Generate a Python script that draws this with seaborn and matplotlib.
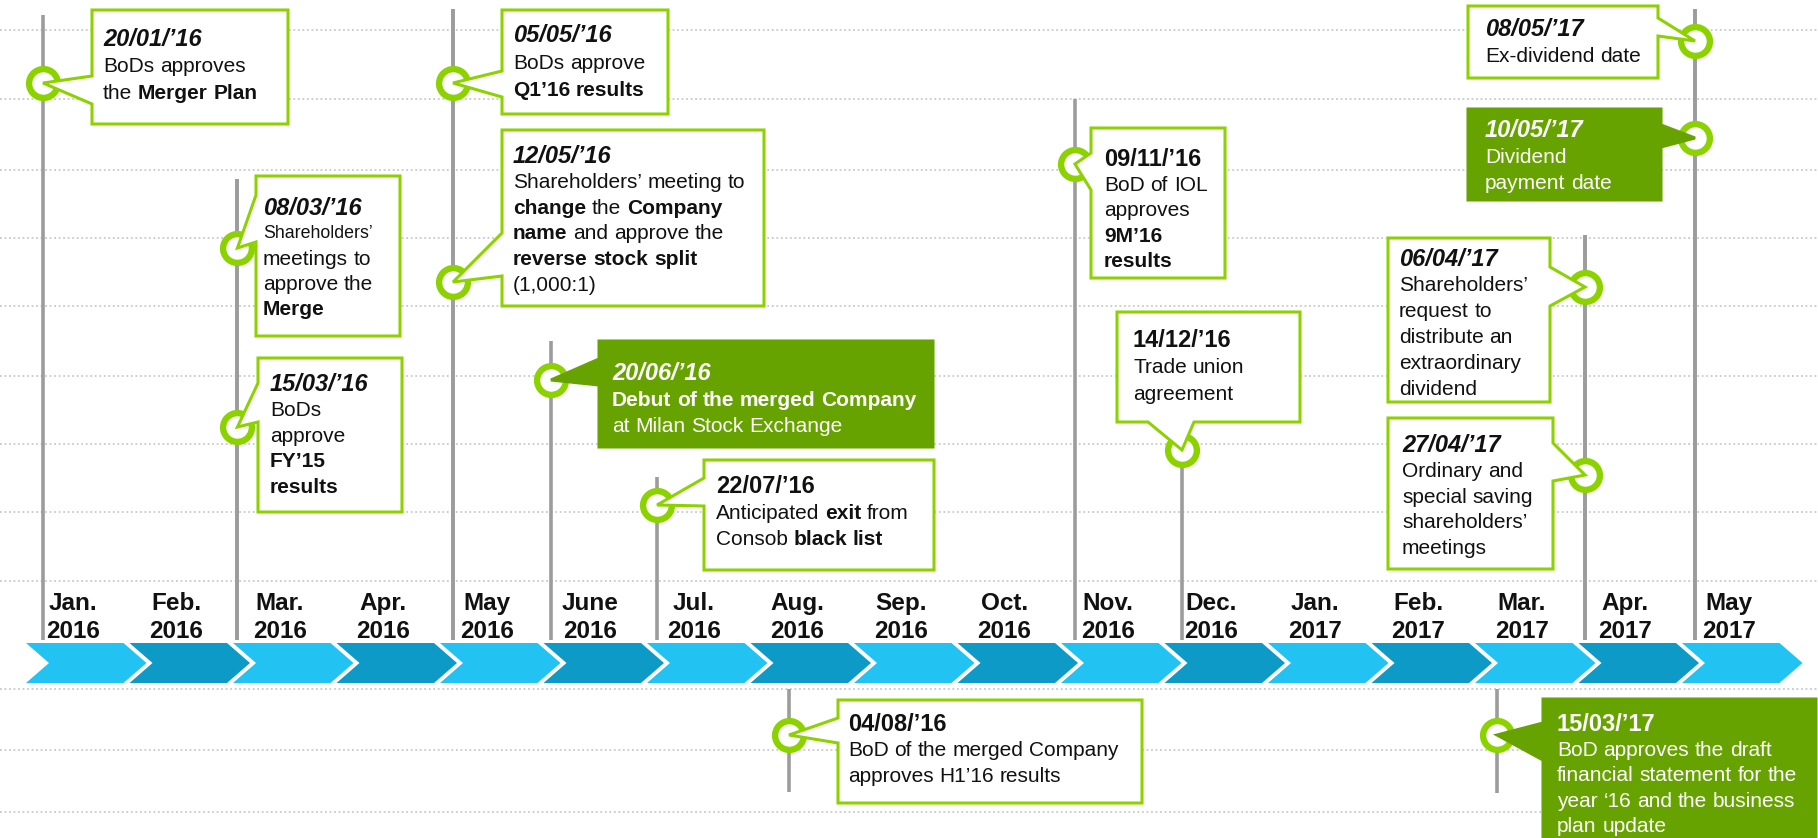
import matplotlib
matplotlib.use("Agg")
import matplotlib.pyplot as plt
import seaborn as sns
from matplotlib.patches import Polygon

# ---------------- data ----------------
month_names = ["Jan.", "Feb.", "Mar.", "Apr.", "May", "June", "Jul.", "Aug.", "Sep.",
               "Oct.", "Nov.", "Dec.", "Jan.", "Feb.", "Mar.", "Apr.", "May"]
month_years = ["2016"] * 12 + ["2017"] * 5

event_dates = ["20/01/’16", "08/03/’16", "15/03/’16", "05/05/’16", "12/05/’16",
               "20/06/’16", "22/07/’16", "04/08/’16", "09/11/’16", "14/12/’16",
               "15/03/’17", "06/04/’17", "27/04/’17", "08/05/’17", "10/05/’17"]
# position on the month axis (0 = start of Jan. 2016)
event_pos = [0.164, 2.043, 2.043, 4.126, 4.126, 5.072, 6.097, 7.372, 10.135,
             11.169, 14.213, 15.063, 15.063, 16.126, 16.126]
event_italic = [1, 1, 1, 1, 1, 1, 0, 0, 0, 0, 0, 1, 1, 1, 1]
event_highlight = [0, 0, 0, 0, 0, 1, 0, 0, 0, 0, 1, 0, 0, 0, 1]
event_lines = [
    ["BoDs approves", "the **Merger Plan**"],
    ["Shareholders’", "meetings to", "approve the", "**Merge**"],
    ["BoDs", "approve", "**FY’15**", "**results**"],
    ["BoDs approve", "**Q1’16 results**"],
    ["Shareholders’ meeting to", "**change** the **Company**", "**name** and approve the",
     "**reverse stock split**", "(1,000:1)"],
    ["**Debut of the merged Company**", "at Milan Stock Exchange"],
    ["Anticipated **exit** from", "Consob **black list**"],
    ["BoD of the merged Company", "approves H1’16 results"],
    ["BoD of IOL", "approves", "**9M’16**", "**results**"],
    ["Trade union", "agreement"],
    ["BoD approves the draft", "financial statement for the",
     "year ‘16 and the business", "plan update"],
    ["Shareholders’", "request to", "distribute an", "extraordinary", "dividend"],
    ["Ordinary and", "special saving", "shareholders’", "meetings"],
    ["Ex-dividend date"],
    ["Dividend", "payment date"],
]

# ---------------- layout (pixels) ----------------
W_PX, H_PX = 1818, 838
X0, MONTH_W = 26, 103.5
LAYOUT = [
    dict(cy=83, box=(92, 10, 288, 124), tail=("left", 76, 104), tx=103, ty=38, dy=27, stem=(15, 640)),
    dict(cy=248, box=(256, 176, 400, 336), tail=("left", 195, 242), tx=263, ty=207, dy=25.3, stem=(179, 640), first=12.8),
    dict(cy=427, box=(258, 358, 402, 512), tail=("left", 383, 422), tx=270, ty=383, dy=25.8, stem=(179, 640)),
    dict(cy=83, box=(502, 10, 668, 114), tail=("left", 71, 97), tx=513, ty=34, dy=27.5, stem=(9, 640)),
    dict(cy=282, box=(502, 130, 764, 306), tail=("left", 233, 276), tx=513, ty=155, dy=25.8, stem=(9, 640)),
    dict(cy=380, box=(599, 341, 933, 447), tail=("left", 359, 385), tx=612, ty=372, dy=26.5, stem=(341, 640)),
    dict(cy=505, box=(704, 460, 934, 570), tail=("left", 478, 506), tx=716, ty=485, dy=26.5, stem=(477, 640)),
    dict(cy=735, box=(838, 700, 1142, 803), tail=("left", 718, 743), tx=848, ty=723, dy=26, stem=(689, 792)),
    dict(cy=164, box=(1091, 128, 1225, 278), tail=("left", 153, 190), tx=1104, ty=158, dy=25.5, stem=(99, 640)),
    dict(cy=450, box=(1117, 312, 1300, 422), tail=("bottom", 1148, 1194), tx=1133, ty=339, dy=27, stem=(450, 640)),
    dict(cy=735, box=(1543, 699, 1816, 845), tail=("left", 723, 760), tx=1557, ty=723, dy=25.5, stem=(689, 793)),
    dict(cy=287, box=(1388, 238, 1550, 402), tail=("right", 267, 306), tx=1399, ty=258, dy=26, stem=(235, 640)),
    dict(cy=475, box=(1388, 418, 1553, 569), tail=("right", 443, 481), tx=1402, ty=444, dy=25.8, stem=(235, 640)),
    dict(cy=41, box=(1468, 6, 1658, 78), tail=("right", 18, 36), tx=1485, ty=28, dy=27, stem=(9, 640)),
    dict(cy=138, box=(1468, 109, 1661, 200), tail=("right", 125, 147), tx=1485, ty=129, dy=26.5, stem=(9, 640)),
]
GRID_Y = [30, 99, 170, 238, 306, 376, 444, 512, 581, 689, 750, 812]
CHEV_TOP, CHEV_BOT = 643, 683

LIME = "#8cd200"
DARK_GREEN = "#67a300"
LIGHT_BLUE = "#22c3f2"
DARK_BLUE = "#0e9ac6"
STEM = "#9c9c9c"
GRID = "#c9c9c9"
DATE_SIZE, BODY_SIZE, MONTH_SIZE = 17, 15, 17.5

sns.set_theme(style="white")
plt.rcParams["font.family"] = ["Liberation Sans", "DejaVu Sans"]

fig = plt.figure(figsize=(W_PX / 100, H_PX / 100), dpi=100)
ax = fig.add_axes([0, 0, 1, 1])
ax.set_xlim(-X0 / MONTH_W, (W_PX - X0) / MONTH_W)
ax.set_ylim(H_PX, 0)
ax.axis("off")


def px2m(px):
    return (px - X0) / MONTH_W


renderer = fig.canvas.get_renderer()


def text_w(s, size, weight, style="normal"):
    t = ax.text(0, 0, s, fontsize=size, fontweight=weight, fontstyle=style)
    w = t.get_window_extent(renderer).width
    t.remove()
    return w


def rich_line(x_px, y_center, line, size, color, style="normal"):
    base = y_center + 0.34 * size * 100 / 72
    parts = line.split("**")
    tokens = []
    for k, part in enumerate(parts):
        weight = "bold" if k % 2 else "normal"
        for w in part.split(" "):
            if w:
                tokens.append((w, weight))
    x = x_px
    for w, weight in tokens:
        t = ax.text(px2m(x), base, w, fontsize=size, fontweight=weight, fontstyle=style,
                    color=color, ha="left", va="baseline", zorder=5)
        x += t.get_window_extent(renderer).width
        x += text_w("a a", size, weight) - text_w("aa", size, weight)


# dotted guide lines
for y in GRID_Y:
    ax.axhline(y, color=GRID, lw=1.3, ls=(0, (1, 1.5)), zorder=0.5)

# month chevrons
gap, tip = 6 / MONTH_W, 23 / MONTH_W
mid = (CHEV_TOP + CHEV_BOT) / 2
for i, (name, year) in enumerate(zip(month_names, month_years)):
    pts = [(i, CHEV_TOP), (i + 1 - gap, CHEV_TOP), (i + 1 - gap + tip, mid),
           (i + 1 - gap, CHEV_BOT), (i, CHEV_BOT), (i + tip, mid)]
    ax.add_patch(Polygon(pts, closed=True, facecolor=LIGHT_BLUE if i % 2 == 0 else DARK_BLUE,
                         edgecolor="none", zorder=2))
    ax.text(i + 0.45, 603, name, ha="center", va="center", fontsize=MONTH_SIZE,
            fontweight="bold", color="#111111", zorder=5)
    ax.text(i + 0.45, 631, year, ha="center", va="center", fontsize=MONTH_SIZE,
            fontweight="bold", color="#111111", zorder=5)

# stems
for pos, lay in zip(event_pos, LAYOUT):
    ax.vlines(pos, lay["stem"][0], lay["stem"][1], color=STEM, lw=2.6, zorder=1)

# rings
sns.scatterplot(x=event_pos, y=[lay["cy"] for lay in LAYOUT], s=430, color="white",
                edgecolor=LIME, linewidth=4.6, zorder=2.5, ax=ax, legend=False)

# callouts
for i, lay in enumerate(LAYOUT):
    l, t, r, b = lay["box"]
    side, a1, a2 = lay["tail"]
    L, R = px2m(l), px2m(r)
    tipxy = (event_pos[i], lay["cy"])
    if side == "left":
        pts = [(L, t), (R, t), (R, b), (L, b), (L, a2), tipxy, (L, a1)]
    elif side == "right":
        pts = [(L, t), (R, t), (R, a1), tipxy, (R, a2), (R, b), (L, b)]
    else:
        pts = [(L, t), (R, t), (R, b), (px2m(a2), b), tipxy, (px2m(a1), b), (L, b)]
    hl = event_highlight[i]
    ax.add_patch(Polygon(pts, closed=True, facecolor=DARK_GREEN if hl else "white",
                         edgecolor=DARK_GREEN if hl else LIME, lw=2.2,
                         joinstyle="miter", zorder=3))
    color = "white" if hl else "#111111"
    rich_line(lay["tx"], lay["ty"], "**" + event_dates[i] + "**", DATE_SIZE, color,
              "italic" if event_italic[i] else "normal")
    for k, line in enumerate(event_lines[i]):
        size = lay.get("first", BODY_SIZE) if k == 0 else BODY_SIZE
        rich_line(lay["tx"], lay["ty"] + lay["dy"] * (k + 1), line, size, color)

fig.savefig("out.png", dpi=100)
